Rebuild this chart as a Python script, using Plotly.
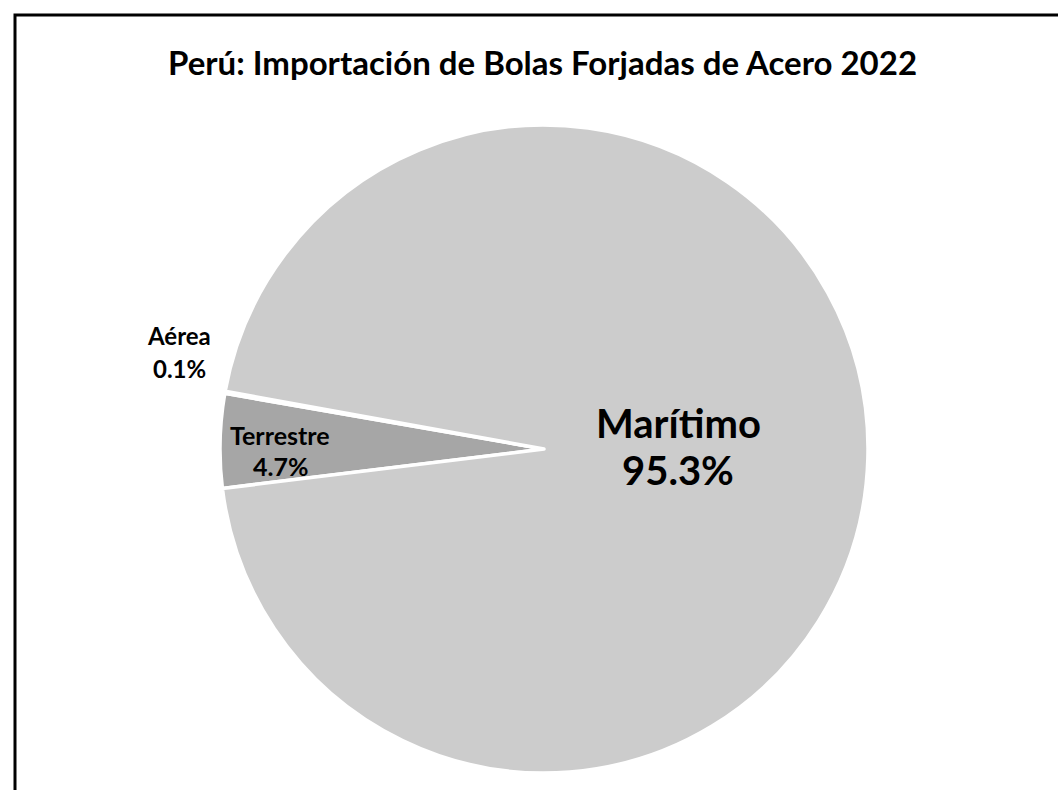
import plotly.graph_objects as go

labels = ["Terrestre", "Aérea", "Marítimo"]
values = [4.7, 0.1, 95.3]
colors = ["#A6A6A6", "#CCCCCC", "#CCCCCC"]
title_text = "Perú: Importación de Bolas Forjadas de Acero 2022"

W, H = 1058, 790
FONT = "Lato"

def px(x):
    return x / W

def py(y):
    return 1 - y / H

fig = go.Figure(go.Pie(
    labels=labels,
    values=values,
    sort=False,
    direction="clockwise",
    rotation=263,
    marker=dict(colors=colors, line=dict(color="white", width=3.5)),
    textinfo="none",
    hoverinfo="label+percent",
    showlegend=False,
    domain=dict(x=[px(220), px(868)], y=[py(773), py(125)]),
))

# label annotations (text from data)
label_pos = {
    "Aérea": (179, 335, 368, 24),
    "Terrestre": (280, 435, 466, 25),
    "Marítimo": (678, 423, 470, 40),
}
ann = []
for lab, val in zip(labels, values):
    x, y1, y2, fs = label_pos[lab]
    ann.append(dict(x=px(x), y=py(y1), xref="paper", yref="paper", text=f"<b>{lab}</b>",
                    xanchor="center", yanchor="middle",
                    showarrow=False, font=dict(family=FONT, size=fs, color="black")))
    ann.append(dict(x=px(x), y=py(y2), xref="paper", yref="paper", text=f"<b>{val:.1f}%</b>",
                    xanchor="center", yanchor="middle",
                    showarrow=False, font=dict(family=FONT, size=fs, color="black")))
ann.append(dict(x=px(542), y=py(62), xref="paper", yref="paper", text=f"<b>{title_text}</b>",
                xanchor="center", yanchor="middle",
                showarrow=False, font=dict(family=FONT, size=33, color="black")))

fig.update_layout(
    width=W, height=H,
    margin=dict(l=0, r=0, t=0, b=0),
    paper_bgcolor="white",
    plot_bgcolor="white",
    annotations=ann,
    shapes=[dict(type="rect", xref="paper", yref="paper",
                 x0=px(15), x1=px(1070), y0=py(800), y1=py(15),
                 line=dict(color="black", width=3), fillcolor="rgba(0,0,0,0)")],
)

fig.write_html("out.html", config={"displayModeBar": False},
               post_script="document.body.style.margin='0';document.body.style.overflow='hidden';")
